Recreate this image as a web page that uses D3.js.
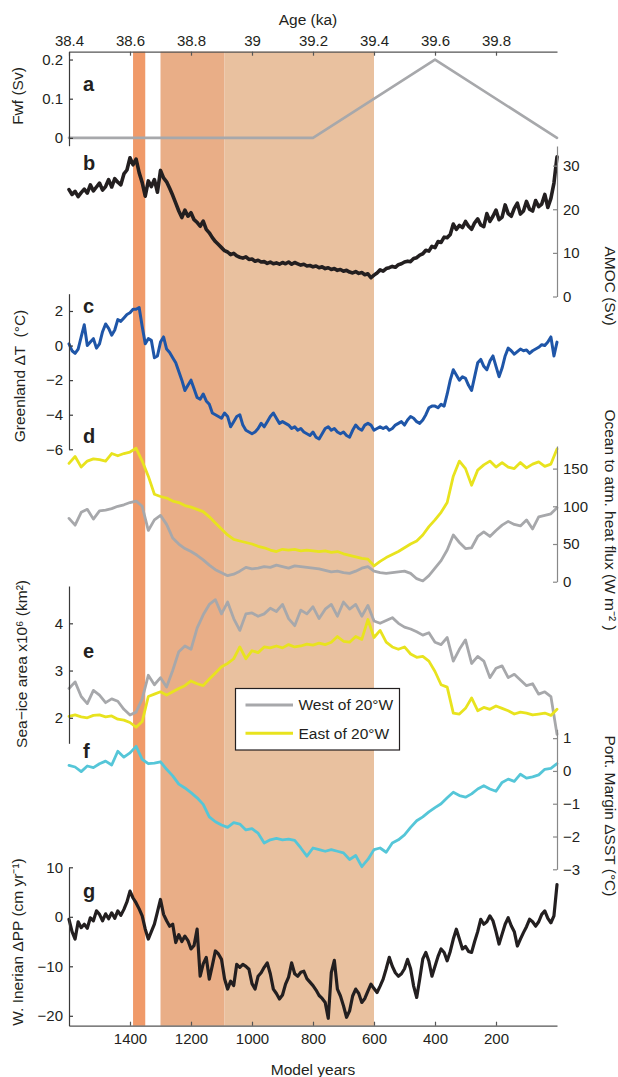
<!DOCTYPE html>
<html><head><meta charset="utf-8">
<script src="https://cdn.jsdelivr.net/npm/d3@7"></script>
<style>
body{margin:0;background:#fff}
svg text{font-family:"Liberation Sans",Arial,Helvetica,sans-serif;fill:#231f20}
</style>
</head><body>
<svg id="c" width="618" height="1077"></svg>
<script>
// ---------- DATA ----------
const years10 = d3.range(1600, -1, -10);
const years20 = d3.range(1600, -1, -20);

const fwfYears = [1600, 800, 400, 0];
const fwfValues = [0, 0, 0.2, 0];

const amoc = [
 24.5, 23.4, 24.1, 22.9, 23.8, 24.6, 23.7, 25.6, 24.2, 25.1,
 26.0, 24.4, 25.2, 26.8, 25.1, 27.0, 26.2, 25.6, 28.1, 29.0,
 31.8, 30.2, 31.5, 28.4, 26.1, 23.0, 26.5, 25.2, 26.8, 23.9,
 28.9, 27.2, 26.3, 24.8, 23.2, 21.4, 19.6, 18.1, 19.8, 18.4,
 19.2, 17.6, 17.0, 16.1, 17.3, 15.4, 14.6, 13.5, 12.6, 11.9,
 11.2, 10.5, 10.2, 9.6, 9.9, 9.3, 9.0, 8.8, 9.1, 8.5,
 8.6, 8.1, 8.3, 7.9, 8.0, 7.6, 7.9, 7.5, 7.7, 7.4,
 7.8, 7.5, 7.9, 7.4, 7.8, 7.5, 7.2, 7.4, 7.0, 7.1,
 6.8, 7.0, 6.6, 6.8, 6.4, 6.6, 6.2, 6.4, 6.0, 6.2,
 5.8, 6.0, 5.6, 5.4, 5.7, 5.3, 5.5, 5.0, 5.2, 4.3,
 4.9, 5.4, 6.1, 5.8, 6.4, 6.6, 6.9, 6.7, 7.3, 7.5,
 7.9, 8.1, 8.0, 8.7, 8.9, 9.5, 9.8, 10.6, 10.4, 11.5,
 11.2, 12.6, 12.4, 13.6, 13.5, 14.2, 16.6, 15.4, 16.3, 15.8,
 17.2, 16.1, 15.4, 16.9, 17.8, 16.4, 16.0, 19.0, 17.2, 18.4,
 19.8, 17.6, 18.2, 21.0, 19.0, 18.4, 20.2, 21.4, 18.9, 19.6,
 21.8, 20.0, 19.6, 22.0, 20.6, 21.2, 23.4, 20.4, 22.5, 26.0,
 32.0];

const greenland = [
 0.1, -0.3, -0.45, -0.2, 0.5, 1.2, 0.0, 0.2, 0.4, -0.15,
 0.1, 0.8, 1.25, 1.0, 0.6, 0.9, 1.5, 1.4, 1.6, 1.8,
 1.9, 2.1, 2.1, 2.2, 1.1, 0.1, 0.4, 0.3, -0.7, -0.6,
 0.2, 0.5, -0.2, -0.4, -0.7, -1.0, -1.5, -2.0, -2.6, -2.3,
 -2.0, -2.5, -3.0, -3.1, -2.8, -3.2, -3.4, -3.9, -4.0, -4.1,
 -4.2, -3.9, -4.1, -4.7, -4.4, -4.1, -4.0, -4.6, -4.9, -5.0,
 -5.1, -5.0, -4.8, -4.5, -4.7, -4.4, -4.1, -3.9, -4.2, -4.5,
 -4.4, -4.5, -4.6, -4.8, -4.7, -4.9, -4.8, -5.0, -5.1, -5.2,
 -5.0, -5.3, -5.4, -5.1, -4.8, -4.7, -4.9, -4.8, -5.0, -5.1,
 -5.0, -5.2, -5.3, -4.9, -4.6, -4.8, -4.9, -4.6, -4.5, -4.6,
 -4.9, -4.8, -4.7, -4.8, -4.7, -4.9, -4.8, -4.6, -4.5, -4.4,
 -4.6, -4.3, -4.1, -4.2, -4.4, -4.5, -4.3, -4.0, -3.6, -3.5,
 -3.5, -3.6, -3.4, -3.5, -2.8, -2.0, -1.4, -1.7, -2.0, -1.8,
 -1.9, -2.3, -2.6, -1.8, -1.0, -0.8, -1.2, -1.4, -0.9, -0.6,
 -1.2, -1.8, -1.3, -0.6, -0.15, -0.3, -0.5, -0.35, -0.2, -0.3,
 -0.25, -0.45, -0.3, -0.2, -0.1, 0.05, 0.0, 0.2, 0.5, -0.6,
 0.2];

const heatEast = [
 157, 166, 152, 160, 163, 162, 160, 170, 167, 170,
 172, 177, 160, 140, 116, 113, 111, 107, 105, 101,
 99, 96, 93, 86, 78, 70, 62, 56, 54, 52,
 50, 47, 45, 42, 40, 43, 42, 43, 41, 42,
 41, 40, 41, 39, 40, 37, 35, 33, 31, 30,
 21, 27, 32, 36, 40, 45, 50, 54, 62, 73,
 82, 92, 105, 140, 160, 150, 128, 148, 155, 160,
 152, 158, 152, 150, 158, 151, 156, 159, 153, 156,
 176];

const heatWest = [
 84, 75, 92, 96, 83, 94, 95, 97, 100, 102,
 105, 107, 100, 68, 82, 88, 76, 58, 50, 44,
 40, 35, 29, 22, 16, 12, 8, 10, 14, 19,
 17, 18, 20, 19, 22, 20, 18, 21, 20, 19,
 18, 17, 15, 13, 14, 12, 11, 14, 18, 20,
 14, 12, 11, 12, 13, 14, 11, 4, 1, 8,
 18, 28, 42, 62, 52, 44, 45, 60, 66, 60,
 68, 75, 80, 76, 74, 82, 70, 86, 88, 90,
 98];

const iceWest = [
 2.62, 2.76, 2.45, 2.30, 2.58, 2.48, 2.32, 2.40, 2.35, 2.18,
 2.06, 2.12, 2.40, 2.90, 2.70, 2.85, 2.65, 3.00, 3.40, 3.52,
 3.45, 3.90, 4.18, 4.40, 4.50, 4.20, 4.45, 4.10, 3.85, 4.20,
 4.22, 4.15, 4.20, 4.32, 4.25, 4.40, 4.10, 3.95, 4.28, 4.20,
 4.35, 4.10, 4.30, 4.40, 4.15, 4.45, 4.30, 4.40, 4.15, 4.38,
 4.05, 4.00, 4.06, 4.12, 4.00, 3.92, 3.88, 3.82, 3.75, 3.80,
 3.60, 3.55, 3.70, 3.20, 3.45, 3.65, 3.15, 3.30, 3.20, 2.85,
 3.05, 3.10, 2.85, 2.92, 2.80, 2.68, 2.72, 2.50, 2.55, 2.45,
 1.65];

const iceEast = [
 2.03, 2.06, 2.02, 2.00, 2.05, 2.06, 2.02, 2.04, 1.97, 1.95,
 1.90, 1.80, 1.92, 2.45, 2.50, 2.55, 2.48, 2.55, 2.62, 2.68,
 2.78, 2.72, 2.68, 2.82, 2.95, 3.08, 3.15, 3.25, 3.50, 3.25,
 3.42, 3.38, 3.50, 3.48, 3.52, 3.48, 3.55, 3.50, 3.52, 3.56,
 3.54, 3.58, 3.55, 3.60, 3.72, 3.62, 3.60, 3.72, 3.66, 4.08,
 3.70, 3.85, 3.60, 3.50, 3.45, 3.50, 3.35, 3.28, 3.30, 3.20,
 2.98, 2.70, 2.65, 2.10, 2.08, 2.20, 2.42, 2.15, 2.22, 2.18,
 2.25, 2.20, 2.15, 2.08, 2.12, 2.10, 2.06, 2.08, 2.10, 2.05,
 2.18];

const sst = [
 0.17, 0.12, -0.02, 0.15, 0.10, 0.22, 0.30, 0.18, 0.60, 0.42,
 0.55, 0.75, 0.35, 0.22, 0.24, 0.28, 0.05, -0.15, -0.40, -0.52,
 -0.66, -0.82, -1.02, -1.40, -1.55, -1.65, -1.72, -1.58, -1.62, -1.80,
 -1.76, -1.90, -2.20, -2.10, -2.06, -2.10, -2.08, -2.12, -2.35, -2.60,
 -2.35, -2.40, -2.45, -2.40, -2.45, -2.50, -2.70, -2.58, -2.92, -2.70,
 -2.40, -2.35, -2.48, -2.20, -2.10, -1.95, -1.72, -1.52, -1.40, -1.25,
 -1.12, -1.00, -0.82, -0.65, -0.75, -0.80, -0.70, -0.55, -0.45, -0.55,
 -0.62, -0.35, -0.25, -0.32, -0.10, -0.22, -0.18, -0.12, 0.05, 0.08,
 0.22];

const precip = [
 -0.5, -3.0, -4.5, -1.0, -2.2, -1.5, -2.3, -0.2, -0.8, 1.2,
 0.5, -0.8, 0.6, -0.4, 0.8, -0.3, 1.2, 0.3, 1.5, 3.0,
 5.2, 3.8, 2.8, 1.6, 0.2, -2.5, -4.5, -3.0, -1.5, 1.0,
 3.5, 0.5, -0.8, -1.9, -1.5, -5.2, -3.6, -5.0, -3.9, -4.8,
 -6.5, -5.8, -2.5, -12.0, -9.5, -8.2, -12.6, -9.8, -6.9, -7.5,
 -8.6, -12.5, -14.6, -13.0, -13.9, -9.6, -10.2, -9.6, -10.0, -10.6,
 -13.5, -14.6, -12.0, -11.3, -10.2, -9.3, -11.5, -14.6, -15.5, -16.6,
 -15.8, -13.6, -12.2, -9.3, -11.5, -12.0, -11.2, -11.0, -12.5, -13.2,
 -13.9, -14.8, -15.9, -16.5, -17.3, -20.5, -11.3, -8.8, -14.6, -16.0,
 -18.0, -20.3, -19.0, -16.0, -14.6, -15.5, -17.3, -16.5, -15.0, -13.6,
 -14.5, -15.3, -14.0, -12.6, -10.5, -8.2, -10.0, -11.3, -12.0, -11.5,
 -10.5, -8.6, -10.5, -14.0, -16.3, -12.5, -8.5, -7.2, -9.0, -12.0,
 -10.0, -8.0, -6.5, -7.2, -8.9, -7.0, -4.5, -2.5, -4.5, -6.5,
 -6.0, -7.0, -7.2, -5.0, -3.0, -0.5, -1.5, -1.0, 0.2, -0.8,
 -3.0, -5.5, -3.5, -1.5, -0.2, -1.8, -3.0, -5.9, -4.5, -3.2,
 -2.0, -0.5, -1.0, -1.9, -1.0, 0.5, 1.2, -0.3, -1.2, 0.2,
 6.5];

const bandStarts = [1390, 1300, 1090];
const bandEnds = [1350, 1090, 600];
const bandColors = ["#f09a69", "#e9ae87", "#e9c19f"];

const modelTicks = [1400, 1200, 1000, 800, 600, 400, 200];
const ageTicks = [38.4, 38.6, 38.8, 39.0, 39.2, 39.4, 39.6, 39.8];
const legendLabels = ["West of 20°W", "East of 20°W"];
const legendColors = ["#a7a8ab", "#e8e31e"];

// ---------- LAYOUT ----------
const svg = d3.select("#c");
const X0 = 69, X1 = 557, TOP = 51.7, BOT = 1025.7;
const FONT = '"Liberation Sans",Arial,Helvetica,sans-serif';
const INK = "#231f20";
const x = d3.scaleLinear().domain([1600, 0]).range([X0, X1]);
const age = d3.scaleLinear().domain([38.4, 40.0]).range([X0, X1]);
const fmt = d => (d < 0 ? "\u2212" + Math.abs(d) : String(+d.toFixed(2)));

// shading bands
svg.append("g").selectAll("rect")
  .data(bandStarts.map((s, i) => ({s, e: bandEnds[i], c: bandColors[i]})))
  .join("rect")
  .attr("x", d => x(d.s)).attr("width", d => x(d.e) - x(d.s))
  .attr("y", TOP).attr("height", BOT - TOP).attr("fill", d => d.c);

function styleAxis(g, stroke) {
  g.attr("font-family", FONT).attr("font-size", 15);
  g.select(".domain").attr("stroke", stroke).attr("stroke-width", 1.2);
  g.selectAll(".tick line").attr("stroke", stroke).attr("stroke-width", 1.2);
  g.selectAll(".tick text").attr("fill", INK);
}

// top axis
const topG = svg.append("g").attr("transform", `translate(0,${TOP})`)
  .call(d3.axisTop(age).tickValues(ageTicks).tickSizeInner(-4).tickSizeOuter(0).tickPadding(6)
    .tickFormat(d => String(+d.toFixed(1))));
styleAxis(topG, "#555");
svg.append("text").attr("x", 308).attr("y", 25).attr("text-anchor", "middle")
  .attr("font-size", 15.5).text("Age (ka)");

// bottom axis
const botG = svg.append("g").attr("transform", `translate(0,${BOT})`)
  .call(d3.axisBottom(x).tickValues(modelTicks).tickSizeInner(-4).tickSizeOuter(0).tickPadding(8)
    .tickFormat(d => String(d)));
styleAxis(botG, "#555");
svg.append("text").attr("x", 313).attr("y", 1075).attr("text-anchor", "middle")
  .attr("font-size", 15.5).text("Model years");

// panels
const panels = [
  {letter: "a", ly: 91, side: "left", domain: [-0.02, 0.22], range: [145.7, 51.7], ticks: [0, 0.1, 0.2],
   title: "Fwf (Sv)", tx: 18, ty: 96, axis: "#3a3a3a",
   series: [{years: fwfYears, values: fwfValues, color: "#a7a8ab", w: 2.6}]},
  {letter: "b", ly: 170, side: "right", domain: [0, 34.5], range: [296.5, 146], ticks: [0, 10, 20, 30],
   title: "AMOC (Sv)", tx: 610, ty: 286, axis: "#888",
   series: [{years: years10, values: amoc, color: INK, w: 3.6}]},
  {letter: "c", ly: 313, side: "left", domain: [-6, 3], range: [449.3, 293.7], ticks: [-6, -4, -2, 0, 2],
   title: "Greenland \u0394T  (\u00b0C)", tx: 20, ty: 376, axis: "#3a3a3a",
   series: [{years: years10, values: greenland, color: "#1f56a8", w: 3}]},
  {letter: "d", ly: 443, side: "right", domain: [0, 180], range: [581.7, 446], ticks: [0, 50, 100, 150],
   title: "Ocean to atm. heat flux (W m\u207b\u00b2 )", tx: 610, ty: 520, axis: "#888",
   series: [{years: years20, values: heatWest, color: "#a7a8ab", w: 2.8},
            {years: years20, values: heatEast, color: "#e8e31e", w: 2.8}]},
  {letter: "e", ly: 658, side: "left", domain: [1.46, 4.79], range: [743.3, 586], ticks: [2, 3, 4],
   title: "Sea\u2212ice area x10\u2076 (km\u00b2)", tx: 22, ty: 664, axis: "#3a3a3a",
   series: [{years: years20, values: iceWest, color: "#a7a8ab", w: 2.8},
            {years: years20, values: iceEast, color: "#e8e31e", w: 2.8}]},
  {letter: "f", ly: 758, side: "right", domain: [-3, 1.27], range: [869.3, 729.3], ticks: [-3, -2, -1, 0, 1],
   title: "Port. Margin \u0394SST (\u00b0C)", tx: 610, ty: 816, axis: "#888",
   series: [{years: years20, values: sst, color: "#55c6d8", w: 2.8}]},
  {letter: "g", ly: 898, side: "left", domain: [-22, 10], range: [1025.7, 867.3], ticks: [-20, -10, 0, 10],
   title: "W. Inerian \u0394PP (cm yr\u207b\u00b9)", tx: 18, ty: 942, axis: "#3a3a3a",
   series: [{years: years10, values: precip, color: INK, w: 3.2}]}
];

const lineLayer = svg.append("g");
const axisLayer = svg.append("g");

panels.forEach(p => {
  const y = d3.scaleLinear().domain(p.domain).range(p.range);
  const ax = (p.side === "left" ? d3.axisLeft(y) : d3.axisRight(y))
    .tickValues(p.ticks).tickSizeInner(-4).tickSizeOuter(0).tickPadding(6).tickFormat(fmt);
  const g = axisLayer.append("g")
    .attr("transform", `translate(${p.side === "left" ? X0 : X1},0)`).call(ax);
  styleAxis(g, p.axis);

  p.series.forEach(s => {
    const pts = s.values.map((v, i) => [s.years[i], v]);
    lineLayer.append("path").datum(pts)
      .attr("fill", "none").attr("stroke", s.color).attr("stroke-width", s.w)
      .attr("stroke-linejoin", "round").attr("stroke-linecap", "round")
      .attr("d", d3.line().x(d => x(d[0])).y(d => y(d[1])));
  });

  const rot = p.side === "left" ? -90 : 90;
  svg.append("text").attr("transform", `translate(${p.tx},${p.ty}) rotate(${rot})`)
    .attr("text-anchor", "middle").attr("dy", "0.35em").attr("font-size", 15.5)
    .style("white-space", "pre").text(p.title);

  svg.append("text").attr("x", 83).attr("y", p.ly).attr("font-size", 20)
    .attr("font-weight", "bold").text(p.letter);
});

// legend
const leg = svg.append("g");
leg.append("rect").attr("x", 235.5).attr("y", 688.5).attr("width", 164).attr("height", 61.5)
  .attr("fill", "#fff").attr("stroke", INK).attr("stroke-width", 1.2);
legendLabels.forEach((lab, i) => {
  const yy = 705 + i * 28.3;
  leg.append("line").attr("x1", 245.5).attr("x2", 293).attr("y1", yy).attr("y2", yy)
    .attr("stroke", legendColors[i]).attr("stroke-width", 3);
  leg.append("text").attr("x", 298.5).attr("y", yy).attr("dy", "0.35em")
    .attr("font-size", 15.5).text(lab);
});
</script>
</body></html>
